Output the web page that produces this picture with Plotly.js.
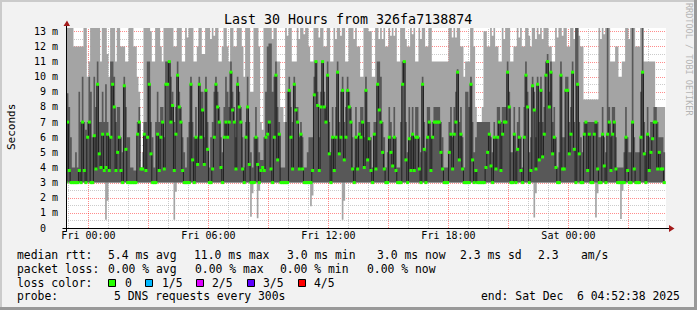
<!DOCTYPE html>
<html><head><meta charset="utf-8">
<script src="https://cdn.plot.ly/plotly-3.0.1.min.js"></script>
<style>html,body{margin:0;padding:0;background:#f2f2f2;overflow:hidden}#chart{width:697px;height:310px}</style>
</head><body><div id="chart"></div>
<script>
// ---- data (5-minute SmokePing steps, 5 pings each, values in ms) ----
const firstStepUTC = [2025, 11, 4, 22, 50, 0];   // Thu Dec 4 22:50 (start of first step)
const stepMinutes = 5;
const rangeStart = '2025-12-04 22:52:38';
const rangeEnd = '2025-12-06 04:52:38';
const tickTimes = ['2025-12-05 00:00','2025-12-05 03:00','2025-12-05 06:00','2025-12-05 09:00','2025-12-05 12:00',
  '2025-12-05 15:00','2025-12-05 18:00','2025-12-05 21:00','2025-12-06 00:00','2025-12-06 03:00'];
const tickLabels = ['Fri 00:00','','Fri 06:00','','Fri 12:00','','Fri 18:00','','Sat 00:00',''];
const yTickVals = [0,1,2,3,4,5,6,7,8,9,10,11,12,13];
const yTickLabels = ['0\u00a0\u00a0','1 m','2 m','3 m','4 m','5 m','6 m','7 m','8 m','9 m','10 m','11 m','12 m','13 m'];

const pingMax = [
14,14,14,14,14,12,12,12,12,12, 12,14,14,10,11,14,14,14,14,14, 14,11,14,14,14,11.5,10,14,14,14,
11,14,14,12,12,12,11,11,14,14, 14,12,12,10,9,4,5,14,14,14, 14,13,11,11,14,14,14,12,11,14,
14,14,14,14,13.5,12,12,14,14,14, 11,11,14,12.6,14,14,14,11,11,12, 14,14,11.5,11.5,14,14,13.5,12.5,14,12.7,
14,14,11,11,12,14,14,12,11,14, 14,12,12,14,14,14,12,10,14,14, 14,9,9,14,14,14,12,7,6.5,14,
14,14,14,14,12.5,14,14,11,11,8, 8,7,14,12.7,14,14,11,11,11,14, 12.5,14,14,12.8,14,14,12,11,11,14,
14,14,12.6,14,14,12,12,14,14,11, 11,14,12.5,14,14,12.7,14,14,11,11, 14,14,14,12.5,14,12,12,10,10,14,
14,14,13,13,10,10,14,14,12.5,14, 12.5,14,12,12,14,12.7,14,12.7,14,11, 11,14,14,14,12.5,12,12,14,12.8,14,
11,11,14,12.5,14,14,12,12,14,14, 11,11,11,11,11,11,11,11,11,11, 14,14,12.6,14,12.6,14,14,12,12,10,
11,11,11,14,14,12,8,7,7,7, 8,13,13,12,12,14,12.7,14,12,12, 11,11,14,12.5,14,14,14,11,11,12,
12,14,12.6,14,12,12,14,14,12.7,12, 14,14,12.5,14,12.8,14,12.5,14,14,14, 12,12,11,11,14,12.6,14,14,12.7,14,
14,12,12,14,14,12.5,14,14,12.7,12, 12,8.5,8.5,8.5,8.5,8.5,8.5,8.5,8.5,8.5, 14,12.5,14,12.8,14,14,14,11,11,11,
12,12,10,10,11,11,14,14,12.5,14, 14,14,12,12,12,14,14,11,11,11, 11,11,11,11,8,8,8,8,8,8];

const pingQ3 = [
8.9,8.9,8,6,4,4,5,4,9,7, 10,7,6.5,7,10,9,6,10,8,11, 7,7,9,7,9.5,7,6,11,11,10,
7,8,8,6,5,10,8,6,6,4, 4,3.8,3.8,7,8,3.9,4,7,7,11, 11,7,6,4,7,9,7,8,8,6,
11,11,11,10,9,7,8,11,9,8, 6,5,4,6,7,10,7,6,8,6, 10,9,9,6,10,7,4,6,7,9,
10,9,8,6,5,8,10,9,8,11, 9,8,6,10,9,8,6,4,7,10, 7,5,4,6,8,6,5,4.5,4.5,6,
9,12,12.2,12.2,9,10,11,8,7,4, 4,4,7,9,10,8,7,10,8,8, 6,7,6,4,4,5,6,6,6,10,
11,9,6,9,11,9,8,11,7,5, 8,6,8,11,7,9,10,7,8,10, 9,8,6,4,8,6,7,8,8,6,
10,7,7,6,4,7,7,11,11,10, 7,6,4,5,8,7,6,8,6,4, 4,7,11,11,7,5,8,6,8,6,
8,8,6,5,10,7,5,8,8,6, 7,8,8,8,8,7,6,4,4,4, 7,8,6,8,9,10.5,7,8,6,4,
9,9,8,10,7,5,6,7,7,7, 7,7,7,7,7,6,5,7,6,8, 8,7,8,8,8,11,9,5,5,8,
5,7,8,6,4,8,11,9,5,6, 10,9,6,10,7,10,7,8,11,11.5, 9,11,7,8,6,4,5,11,6,6,
10,10,7,8,11,7,14,14,7,6, 5,7,7,7,7,7,7,7,7,7, 6,6,8,6,5,14,8,6,8,8,
6,4,4,4,4,5,8,6,5,5, 14,6,5,5,5,9,14,7,5,8, 6,7,7,8,8,7,6,6,6,5];

const pingMedian = [
3,7,3.8,3,3,3,3,3,3.8,3, 7,3.8,3,6,7,3,3,6.1,3.9,9.5, 4.9,4,6.2,3.8,4,6.2,3.8,6,9.5,8,
3.8,5,6,3.8,3,9.4,5.2,3,3,3, 3,3,3,6.2,7,3.9,3.9,6.2,3.8,6, 9.5,4.9,3,3,3,6.2,3.8,6,7,3.9,
9.5,9.5,11,7,8.1,3.8,6.2,10.1,8,7, 3.8,3,3,3,3,9.5,4.5,3,6,4.2, 9.5,6,7.8,4.2,9.1,5.2,3,3,3.9,6,
9.5,8,7,4,3,6,7,6,7,10.3, 7.8,7,3.9,9.5,8,7,3.9,3,6,8, 4.2,3,3,3,6,4.2,3,3.8,4,3.8,
6,6.2,7,3.9,3,6,10.1,4.5,6.2,3, 3,3,3,3,9.1,6,3.9,9.5,7.8,7, 3.9,6.2,3.9,3,3,3,3,3,3.8,8.8,
11,8.1,3.8,8,11,8,7,10.1,4.9,3, 6,3.8,6,10.3,4.9,6,9.1,4.5,6,9.1, 8,7,3.9,3,6,3.9,6.2,6,7,4,
9.1,4.5,5.9,3.8,3,6.2,3.9,9.5,7.8,7, 5,3.9,3,3,6,5,4.1,6,3.8,3, 3,3,9.5,11,4.5,3,5.9,3.8,6.2,3.8,
6,6,3.9,3,9.5,5.2,3,6,7,3.8, 6,7,7,7,7,5,3.9,3,3,3, 5,6.2,3.9,6.2,7,10.3,4.5,6.2,3.9,3,
3,3,3,9.5,4.5,3,3.8,3,3,3, 3,3,4,5,6.2,4.1,3,6,3.9,6, 7,3.8,6.2,7,7,10.3,8,3,3,6.2,
3,5.2,6,3.8,3,6,10.1,8,3,3.8, 9.4,7.8,3.9,9.5,4.5,9.1,4.7,6.2,10.1,11, 8,10.3,4.9,6,4,3,3,10.1,3.9,3.9,
9.1,9.1,4.9,6.2,10.3,5.2,3,9.5,4.9,3, 3,6.2,7,3.8,6.2,3,3,6.2,7,3.9, 3,3,6.2,4.1,3,6.2,7,3.8,6.2,7,
3.9,3,3,3,3,3,6,3.8,3,3, 7,3.9,3,3,3,6,10.3,4.9,3,6.2, 3.8,5,5.9,7,7,3.9,5,3.9,3.9,3];

const pingQ1 = [
3,3,3,3,3,3,3,3,3,3, 3,3,3,3,3,3,3,3,3,3, 3,3,3,3,3,3,3,3,3,3,
3,3,3,3,3,3,3,3,3,3, 3,3,3,3,3,3,3,3,3,3, 3,3,3,3,3,3,3,3,3,3,
3,3,3,3,3,3,3,3,3,3, 3,3,3,3,3,3,3,3,3,3, 3,3,3,3,3,3,3,3,3,3,
3,3,3,3,3,3,3,3,3,3, 3,3,3,3,3,3,3,3,3,3, 3,3,3,3,3,3,3,3,3,3,
3,3,3,3,3,3,3,3,3,3, 3,3,3,3,3,3,3,3,3,3, 3,3,3,3,3,3,3,3,3,3,
3,3,3,3,3,3,3,3,3,3, 3,3,3,3,3,3,3,3,3,3, 3,3,3,3,3,3,3,3,3,3,
3,3,3,3,3,3,3,3,3,3, 3,3,3,3,3,3,3,3,3,3, 3,3,3,3,3,3,3,3,3,3,
3,3,3,3,3,3,3,3,3,3, 3,3,3,3,3,3,3,3,3,3, 3,3,3,3,3,3,3,3,3,3,
3,3,3,3,3,3,3,3,3,3, 3,3,3,3,3,3,3,3,3,3, 3,3,3,3,3,3,3,3,3,3,
3,3,3,3,3,3,3,3,3,3, 3,3,3,3,3,3,3,3,3,3, 3,3,3,3,3,3,3,3,3,3,
3,3,3,3,3,3,3,3,3,3, 3,3,3,3,3,3,3,3,3,3, 3,3,3,3,3,3,3,3,3,3,
3,3,3,3,3,3,3,3,3,3, 3,3,3,3,3,3,3,3,3,3, 3,3,3,3,3,3,3,3,3,3];

const pingMin = [
2.3,3,3,3,3,3,3,3,3,3, 3,3,3,3,3,3,3,3,3,3, 3,3,3,3,0.55,1.8,3,3,3,3,
3,3,3,3,3,3,3,3,3,3, 3,3,3,3,3,3,3,3,3,3, 3,3,3,3,3,3,3,3,3,3,
3,3,3,3,3,0.55,2.4,3,3,3, 3,3,3,3,3,3,3,3,3,3, 3,3,3,3,3,3,3,3,3,3,
3,3,3,3,3,3,3,3,3,3, 3,3,3,3,3,3,3,3,3,3, 3,0.75,2.3,3,3,0.64,2.46,3,3,3,
3,3,3,3,3,3,3,3,3,3, 3,3,3,3,3,3,3,3,3,3, 3,3,3,3,3,3,3,1.43,2.15,3,
3,3,3,3,3,3,3,3,3,3, 3,3,3,3,3,3,0.55,1.8,3,3, 3,3,3,3,3,3,3,3,3,3,
3,3,3,3,3,3,3,3,3,3, 3,3,3,3,3,3,3,3,3,3, 3,3,3,3,3,3,3,3,3,3,
3,3,3,3,3,3,3,3,3,3, 3,3,3,3,3,3,3,3,3,3, 3,3,3,3,3,3,3,3,3,3,
3,3,3,3,3,3,3,3,3,3, 3,3,3,3,3,3,3,3,3,3, 3,3,3,3,3,3,3,3,3,3,
3,3,3,3,3,3,3,3,3,3, 3,0.7,2.3,3,3,3,3,3,3,3, 3,3,3,3,3,3,3,3,3,3,
3,3,3,3,3,3,3,3,3,3, 3,3,3,3,3,3,3,3,0.7,2.3, 3,3,3,3,3,3,3,3,3,3,
3,3,3,0.6,2.46,3,3,3,3,3, 3,3,3,3,3,3,3,3,3,3, 3,3,3,3,3,3,3,3,3,3];

const legendRtt = ['median rtt:', '5.4 ms avg', '11.0 ms max', '3.0 ms min', '3.0 ms now', '2.3 ms sd', '2.3', 'am/s'];
const legendLoss = ['packet loss:', '0.00 % avg', '0.00 % max', '0.00 % min', '0.00 % now'];
const lossLabels = ['0', '1/5', '2/5', '3/5', '4/5'];
const lossColors = ['#26ff00', '#00b8ff', '#dd00ff', '#5e00ff', '#ff0000'];

// ---- build ----
const pad = n => String(n).padStart(2, '0');
const fmt = ms => { const d = new Date(ms); return d.getUTCFullYear() + '-' + pad(d.getUTCMonth() + 1) + '-' + pad(d.getUTCDate()) + ' ' + pad(d.getUTCHours()) + ':' + pad(d.getUTCMinutes()) + ':' + pad(d.getUTCSeconds()); };
const t0 = Date.UTC(...firstStepUTC);
const stepMs = stepMinutes * 60000;
const N = pingMedian.length;
const xs = [], xc = [];
for (let i = 0; i <= N; i++) xs.push(fmt(t0 + i * stepMs));
for (let i = 0; i < N; i++) xc.push(fmt(t0 + i * stepMs + stepMs / 2));
const ext = a => a.concat([a[a.length - 1]]);

const edge = {width: 0, shape: 'hv'};
const traces = [
  {x: xs, y: ext(pingMin), mode: 'lines', line: edge, hoverinfo: 'skip'},
  {x: xs, y: ext(pingMax), mode: 'lines', line: edge, fill: 'tonexty', fillcolor: '#a4a4a4', hoverinfo: 'skip'},
  {x: xs, y: ext(pingQ1), mode: 'lines', line: edge, hoverinfo: 'skip'},
  {x: xs, y: ext(pingQ3), mode: 'lines', line: edge, fill: 'tonexty', fillcolor: '#585858', hoverinfo: 'skip'},
  {x: xs, y: ext(pingMedian), mode: 'lines', line: {width: 1, shape: 'hv', color: '#202020'}, hoverinfo: 'skip'},
  {x: xc, y: pingMedian, mode: 'markers', marker: {symbol: 'square', size: 3, color: lossColors[0], line: {width: 0}}, hoverinfo: 'skip'}
];

// pixel helpers for decorations (plot area 66..666 x 28..228)
const L = 66, T = 28, W = 600, H = 200, YMAX = 13.22;
const PX = px => (px - L) / W;
const PY = py => (T + H - py) / H;
const crispY = v => PY(Math.round(T + H - v * H / YMAX) + 0.5);
const tStart = Date.UTC(2025, 11, 4, 22, 52, 38), spanMs = 30 * 3600000;
const crispX = tm => PX(Math.round(L + (tm - tStart) / spanMs * W) + 0.5);

const MG = 'rgba(255,0,0,0.45)', GR = 'rgba(160,160,160,0.55)';
const shapes = [];
const gl = (x0, x1, y0, y1, c) => shapes.push({type: 'line', layer: 'below', xref: 'paper', yref: 'paper', x0, x1, y0, y1, line: {color: c, width: 1, dash: '1px,1px'}});
for (let v = 0.5; v < 13.2; v += 1) gl(0, 1, crispY(v), crispY(v), GR);
for (let v = 1; v <= 13; v++) gl(0, 1, crispY(v), crispY(v), MG);
const h0 = Date.UTC(2025, 11, 4, 23, 0, 0);
for (let k = 0; k < 30; k++) {
  const tm = h0 + k * 3600000;
  const hr = new Date(tm).getUTCHours();
  gl(crispX(tm), crispX(tm), 0, 1, hr % 3 === 0 ? MG : GR);
}
// axes with arrows
shapes.push({type: 'line', layer: 'above', xref: 'paper', yref: 'paper', x0: PX(62.5), x1: PX(670), y0: PY(228.5), y1: PY(228.5), line: {color: '#000', width: 1}});
shapes.push({type: 'line', layer: 'above', xref: 'paper', yref: 'paper', x0: PX(66.5), x1: PX(66.5), y0: PY(231.5), y1: PY(24), line: {color: '#000', width: 1}});
shapes.push({type: 'path', layer: 'above', xref: 'paper', yref: 'paper', path: `M${PX(63.5)},${PY(26)} L${PX(67)},${PY(20.5)} L${PX(70)},${PY(26)} Z`, fillcolor: '#a31a1a', line: {width: 0}});
shapes.push({type: 'path', layer: 'above', xref: 'paper', yref: 'paper', path: `M${PX(669)},${PY(225)} L${PX(674.5)},${PY(228.5)} L${PX(669)},${PY(232)} Z`, fillcolor: '#a31a1a', line: {width: 0}});
// frame shading
shapes.push({type: 'line', layer: 'above', xref: 'paper', yref: 'paper', x0: PX(0), x1: PX(697), y0: PY(1), y1: PY(1), line: {color: '#cbcbcb', width: 2}});
shapes.push({type: 'line', layer: 'above', xref: 'paper', yref: 'paper', x0: PX(1), x1: PX(1), y0: PY(0), y1: PY(310), line: {color: '#cbcbcb', width: 2}});
shapes.push({type: 'line', layer: 'above', xref: 'paper', yref: 'paper', x0: PX(0), x1: PX(697), y0: PY(308.5), y1: PY(308.5), line: {color: '#999999', width: 3}});
shapes.push({type: 'line', layer: 'above', xref: 'paper', yref: 'paper', x0: PX(695.5), x1: PX(695.5), y0: PY(0), y1: PY(310), line: {color: '#999999', width: 3}});
// loss colour boxes
const boxX = [108.5, 145.5, 196.5, 247.5, 298.5];
boxX.forEach((bx, i) => shapes.push({type: 'rect', layer: 'above', xref: 'paper', yref: 'paper', x0: PX(bx), x1: PX(bx + 7), y0: PY(279.5), y1: PY(286.5), fillcolor: lossColors[i], line: {color: '#000', width: 1}}));

const F = 'DejaVu Sans Mono';
const ann = [];
const txt = (s, px, py, size, extra) => ann.push(Object.assign({text: s, xref: 'paper', yref: 'paper', x: PX(px), y: PY(py), xanchor: 'left', yanchor: 'middle', showarrow: false, borderpad: 0, font: {family: F, size: size, color: '#000'}}, extra || {}));
txt('Last 30 Hours from 326fa7138874', 348, 19.5, 13.3, {xanchor: 'center'});
txt('RRDTOOL / TOBI OETIKER', 689, 59, 8.5, {xanchor: 'center', textangle: 90, font: {family: F, size: 8.5, color: '#b5b5b5'}});
txt('Seconds', 11, 127, 11, {xanchor: 'center', textangle: -90});
const rttX = [16, 107, 193, 286, 376, 459, 537, 580];
legendRtt.forEach((s, i) => txt(s, rttX[i], 255, 11.4));
const lossX = [16, 107, 194, 279, 366];
legendLoss.forEach((s, i) => txt(s, lossX[i], 268.5, 11.4));
txt('loss color:', 16, 282.5, 11.4);
const lblX = [124, 160.7, 211.3, 262.3, 312.7];
lossLabels.forEach((s, i) => txt(s, lblX[i], 282.5, 11.4));
txt('probe:', 16, 296, 11.4);
txt('5 DNS requests every 300s', 112.7, 296, 11.4);
txt('end: Sat Dec\u00a0\u00a06 04:52:38 2025', 681, 296, 11.4, {xanchor: 'right'});

const layout = {
  width: 697, height: 310,
  margin: {l: L, r: 697 - L - W, t: T, b: 310 - T - H, pad: 0},
  paper_bgcolor: '#f2f2f2', plot_bgcolor: '#ffffff',
  showlegend: false,
  font: {family: F, color: '#000', size: 10},
  xaxis: {type: 'date', range: [rangeStart, rangeEnd], tickvals: tickTimes, ticktext: tickLabels,
    showgrid: false, zeroline: false, showline: false, ticks: '', tickfont: {family: F, size: 10, color: '#000'}, fixedrange: true},
  yaxis: {range: [0, YMAX], tickvals: yTickVals, ticktext: yTickLabels, showgrid: false, zeroline: false,
    showline: false, ticks: '', ticklabelstandoff: 7, tickfont: {family: F, size: 10, color: '#000'}, fixedrange: true},
  shapes: shapes,
  annotations: ann
};
Plotly.newPlot('chart', traces, layout, {displayModeBar: false, staticPlot: true});
</script></body></html>
